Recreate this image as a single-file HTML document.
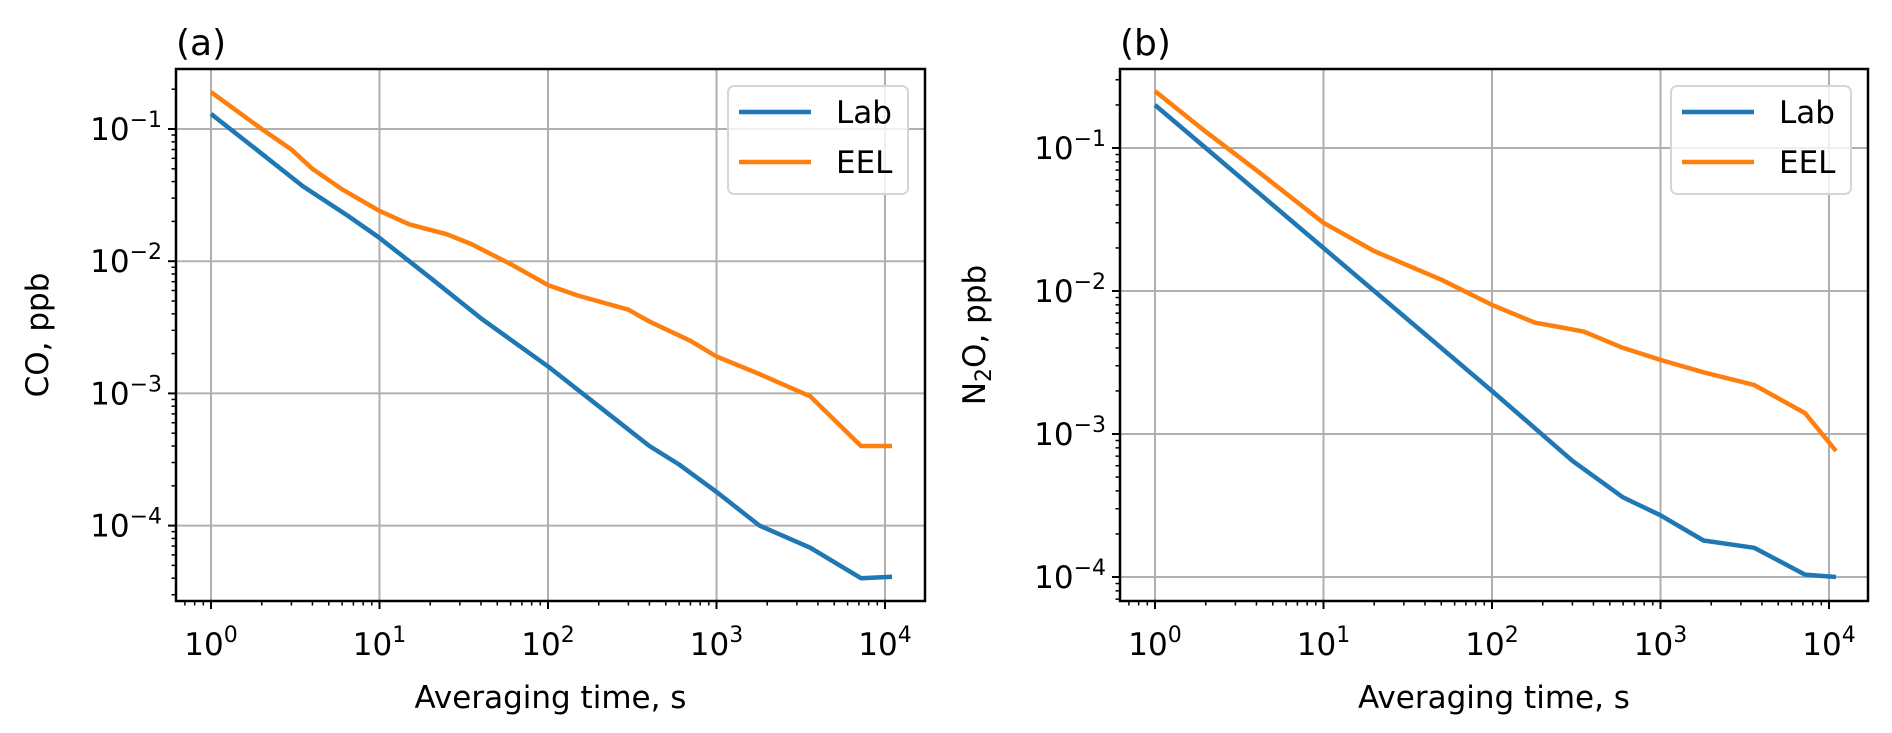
<!DOCTYPE html>
<html><head><meta charset="utf-8"><style>
html,body{margin:0;padding:0;background:#fff;}
svg{display:block;font-family:"DejaVu Sans","Liberation Sans",sans-serif;}
</style></head><body>
<svg id="fig" width="1892" height="733" viewBox="0 0 1892 733" xmlns="http://www.w3.org/2000/svg"></svg>
<script>
const xTicks=[0,1,2,3,4];
const yTicks=[-1,-2,-3,-4];
const tA_lab=[1,2,3.5,6.5,10,20,40,100,200,400,600,1000,1800,3600,7200,11000];
const vA_lab=[0.13,0.065,0.037,0.022,0.015,0.0075,0.0037,0.0016,0.0008,0.0004,0.00029,0.00018,0.0001,0.000068,0.00004,0.000041];
const tA_eel=[1,2,3,4,6,10,15,25,35,60,100,150,300,400,700,1000,1800,3600,7200,11000];
const vA_eel=[0.19,0.10,0.07,0.05,0.035,0.024,0.019,0.016,0.0135,0.0095,0.0066,0.0055,0.0043,0.0035,0.0025,0.0019,0.0014,0.00095,0.0004,0.0004];
const tB_lab=[1,2,10,100,300,600,1000,1800,3600,7200,11000];
const vB_lab=[0.2,0.1,0.02,0.002,0.00065,0.00036,0.00027,0.00018,0.00016,0.000104,0.0001];
const tB_eel=[1,2,4,10,20,50,100,180,250,350,600,1000,1800,3600,7200,11000];
const vB_eel=[0.25,0.13,0.07,0.03,0.019,0.012,0.008,0.006,0.0056,0.0052,0.004,0.0033,0.0027,0.0022,0.0014,0.00076];

const NS="http://www.w3.org/2000/svg";
const svg=document.getElementById('fig');
function mk(tag,attrs,parent){const e=document.createElementNS(NS,tag);for(const k in attrs)e.setAttribute(k,attrs[k]);(parent||svg).appendChild(e);return e;}

function panel(cfg){
  const g=mk('g',{});
  
  
  const X=v=>cfg.x0+Math.log10(v)*168.5;
  const Y=v=>cfg.y1+(-1-Math.log10(v))*cfg.dec;
  const L=cfg.left,R=cfg.right,T=69,B=601;
  // grid
  xTicks.forEach(e=>{const l=mk('line',{x1:X(10**e),x2:X(10**e),y1:T,y2:B,stroke:'#b0b0b0','stroke-width':2},g);
    });
  yTicks.forEach(e=>{const l=mk('line',{x1:L,x2:R,y1:Y(10**e),y2:Y(10**e),stroke:'#b0b0b0','stroke-width':2},g);
    });
  // series
  const series=[[cfg.tl,cfg.vl,'#1f77b4','lab-line'],[cfg.te,cfg.ve,'#ff7f0e','eel-line']];
  series.forEach(s=>{const p=mk('polyline',{points:s[0].map((t,i)=>X(t).toFixed(1)+','+Y(s[1][i]).toFixed(1)).join(' '),fill:'none',stroke:s[2],'stroke-width':4.5,'stroke-linejoin':'round'},g);
    });
  // spines
  const sp=mk('rect',{x:L,y:T,width:R-L,height:B-T,fill:'none',stroke:'#000','stroke-width':2.5},g);
  
  // x ticks
  for(let e=-1;e<=4;e++){for(let m=1;m<10;m++){const v=m*10**e;const px=X(v);if(px<L||px>R)continue;
    mk('line',{x1:px,x2:px,y1:B,y2:B+(m==1?8:4.5),stroke:'#000','stroke-width':m==1?2:1.5},g);}}
  xTicks.forEach(e=>{const t=mk('text',{x:X(10**e),y:655,'text-anchor':'middle','font-size':31,fill:'#000'},g);
    
    t.textContent='10';const s=mk('tspan',{dy:-13,'font-size':22},t);s.textContent=String(e);});
  // y ticks
  for(let e=-6;e<=0;e++){for(let m=1;m<10;m++){const v=m*10**e;const py=Y(v);if(py<T||py>B)continue;
    mk('line',{x1:L,x2:L-(m==1?8:4.5),y1:py,y2:py,stroke:'#000','stroke-width':m==1?2:1.5},g);}}
  yTicks.forEach(e=>{const t=mk('text',{x:L-14,y:Y(10**e)+11,'text-anchor':'end','font-size':31,fill:'#000'},g);
    
    t.textContent='10';const s=mk('tspan',{dy:-13,'font-size':22},t);s.textContent='\u2212'+(-e);});
  // labels
  const xl=mk('text',{x:(L+R)/2,y:708,'text-anchor':'middle','font-size':31,fill:'#000'},g);
  xl.textContent='Averaging time, s';
  const yl=mk('text',{x:0,y:0,'text-anchor':'middle','font-size':31,fill:'#000',transform:`translate(${cfg.ylx},335) rotate(-90)`},g);
  
  if(cfg.n2o){yl.textContent='N';const s=mk('tspan',{'font-size':22,dy:6},yl);s.textContent='2';const s2=mk('tspan',{dy:-6},yl);s2.textContent='O, ppb';}
  else yl.textContent='CO, ppb';
  const pl=mk('text',{x:L,y:55,'font-size':36,fill:'#000'},g);
  pl.textContent=cfg.label;
  // legend
  const lg=mk('g',{},g);
  mk('rect',{x:R-197,y:86,width:180,height:108,rx:6,fill:'#fff','fill-opacity':0.8,stroke:'#d6d6d6','stroke-width':2},lg);
  [['Lab','#1f77b4',112],['EEL','#ff7f0e',162]].forEach(it=>{
    const e=mk('g',{},lg);
    mk('line',{x1:R-186,x2:R-114,y1:it[2],y2:it[2],stroke:it[1],'stroke-width':4.5},e);
    const t=mk('text',{x:R-89,y:it[2]+11,'font-size':31,fill:'#000'},e);t.textContent=it[0];});
}
panel({name:'panel-a-co',x0:211,left:176,right:925,y1:129,dec:132.2,tl:tA_lab,vl:vA_lab,te:tA_eel,ve:vA_eel,ylx:48,label:'(a)'});
panel({name:'panel-b-n2o',x0:1155,left:1120,right:1868,y1:148,dec:143,tl:tB_lab,vl:vB_lab,te:tB_eel,ve:vB_eel,ylx:985,label:'(b)',n2o:true});
</script>
</body></html>
